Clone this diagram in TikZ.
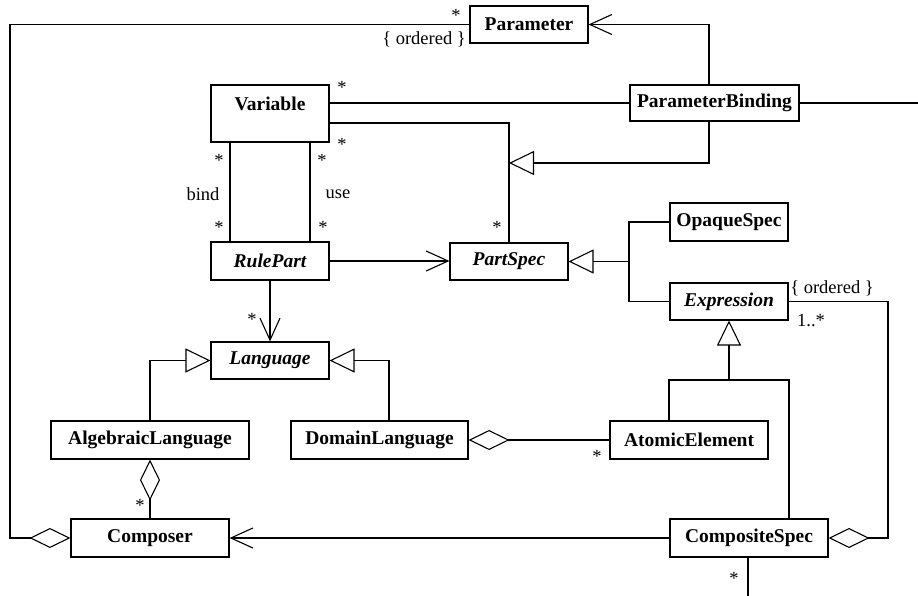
\documentclass[tikz,border=0pt]{standalone}
\usepackage{fontspec}
\setmainfont{Liberation Serif}
\usetikzlibrary{arrows.meta,calc}
\begin{document}
\begin{tikzpicture}[x=1pt,y=-1pt,line width=1.1pt,
  cls/.style={draw,line width=1.1pt,inner sep=0pt,font=\fontsize{19.5}{22}\selectfont\bfseries},
  abs/.style={cls,font=\fontsize{19.5}{22}\selectfont\bfseries\itshape},
  lbl/.style={inner sep=0pt,font=\fontsize{18.5}{20}\selectfont},
  barb/.style={-{Straight Barb[length=22pt,width=20pt]}},
  gen/.style={-{Triangle[open,length=25pt,width=24pt]}},
  agg/.style={{Diamond[open,length=41pt,width=20pt]}-}]
\fill[white] (0,0) rectangle (918,596);
\useasboundingbox (0,0) rectangle (918,596);
% classes
\node[cls,minimum width=118pt,minimum height=37pt] (param) at (529,24.5) {Parameter};
\node[cls,minimum width=169pt,minimum height=36pt] (pb) at (714.5,103) {ParameterBinding};
\node[cls,minimum width=118pt,minimum height=57pt] (var) at (270,113.5) {};
\node[cls,draw=none] (vart) at (270,104) {Variable};
\node[abs,minimum width=118pt,minimum height=38pt] (rule) at (270,261) {RulePart};
\node[abs,minimum width=118pt,minimum height=37pt] (lang) at (270,360.5) {Language};
\node[abs,minimum width=118pt,minimum height=37pt] (ps) at (509,261.5) {PartSpec};
\node[cls,minimum width=118pt,minimum height=38pt] (opq) at (729,222) {OpaqueSpec};
\node[abs,minimum width=118pt,minimum height=37pt] (expr) at (729,301.5) {Expression};
\node[cls,minimum width=158pt,minimum height=38pt] (atom) at (689,440) {AtomicElement};
\node[cls,minimum width=158pt,minimum height=38pt] (comp) at (749,538) {CompositeSpec};
\node[cls,minimum width=198pt,minimum height=38pt] (alg) at (150,440) {AlgebraicLanguage};
\node[cls,minimum width=177pt,minimum height=38pt] (dom) at (379.5,440) {DomainLanguage};
\node[cls,minimum width=158pt,minimum height=38pt] (composer) at (150,538) {Composer};
% helper coordinates
\coordinate (lc) at (10,24.5);
\coordinate (re) at (918,103);
\coordinate (g1) at (509,163);
\coordinate (j1) at (629,261.5);
\coordinate (j2) at (729,380);
\coordinate (j3) at (888,301.5);
\coordinate (bot) at (748,596);
% connectors
\draw[agg] (composer.west) -| (lc) -- (param.west);
\draw[barb] ($(pb.north)+(-5.5,0)$) |- (param.east);
\draw (pb.west) -- (pb.west -| var.east);
\draw (pb.east) -- (re);
\draw ($(var.east)+(0,9.5)$) -| (ps.north);
\draw[gen] ($(pb.south)+(-5.5,0)$) |- (g1);
\draw ($(var.south)+(-40,0)$) -- ($(rule.north)+(-40,0)$);
\draw ($(var.south)+(40,0)$) -- ($(rule.north)+(40,0)$);
\draw[barb] (rule.east) -- (rule.east -| ps.west);
\draw[barb] (rule.south) -- (lang.north);
\draw[gen] (alg.north) |- (lang.west);
\draw[gen] ($(dom.north)+(9.5,0)$) |- (lang.east);
\draw[agg] (alg.south) -- (composer.north);
\draw[agg] (dom.east) -- (atom.west);
\draw (opq.west) -| (j1);
\draw (expr.west) -| (j1);
\draw[gen] (j1) -- (ps.east);
\draw[gen] (j2) -- (expr.south);
\draw ($(atom.north)+(-20,0)$) |- (j2) -| ($(comp.north)+(40,0)$);
\draw[agg] (comp.east) -| (j3) -- (expr.east);
\draw[barb] (comp.west) -- (composer.east);
\draw ($(comp.south)+(-1,0)$) -- (bot);
% labels
\node[lbl] at (456,15) {*};
\node[lbl] at (424,39) {\{ ordered \}};
\node[lbl] at (342,87) {*};
\node[lbl] at (342,144) {*};
\node[lbl] at (219,160) {*};
\node[lbl] at (322,160) {*};
\node[lbl] at (219,227) {*};
\node[lbl] at (323,227) {*};
\node[lbl] at (203,194) {bind};
\node[lbl] at (338,194) {use};
\node[lbl] at (497,227) {*};
\node[lbl] at (252,319) {*};
\node[lbl] at (140,505) {*};
\node[lbl] at (597,456) {*};
\node[lbl] at (734,578) {*};
\node[lbl] at (832,288) {\{ ordered \}};
\node[lbl] at (811,321) {1..*};
\end{tikzpicture}
\end{document}
